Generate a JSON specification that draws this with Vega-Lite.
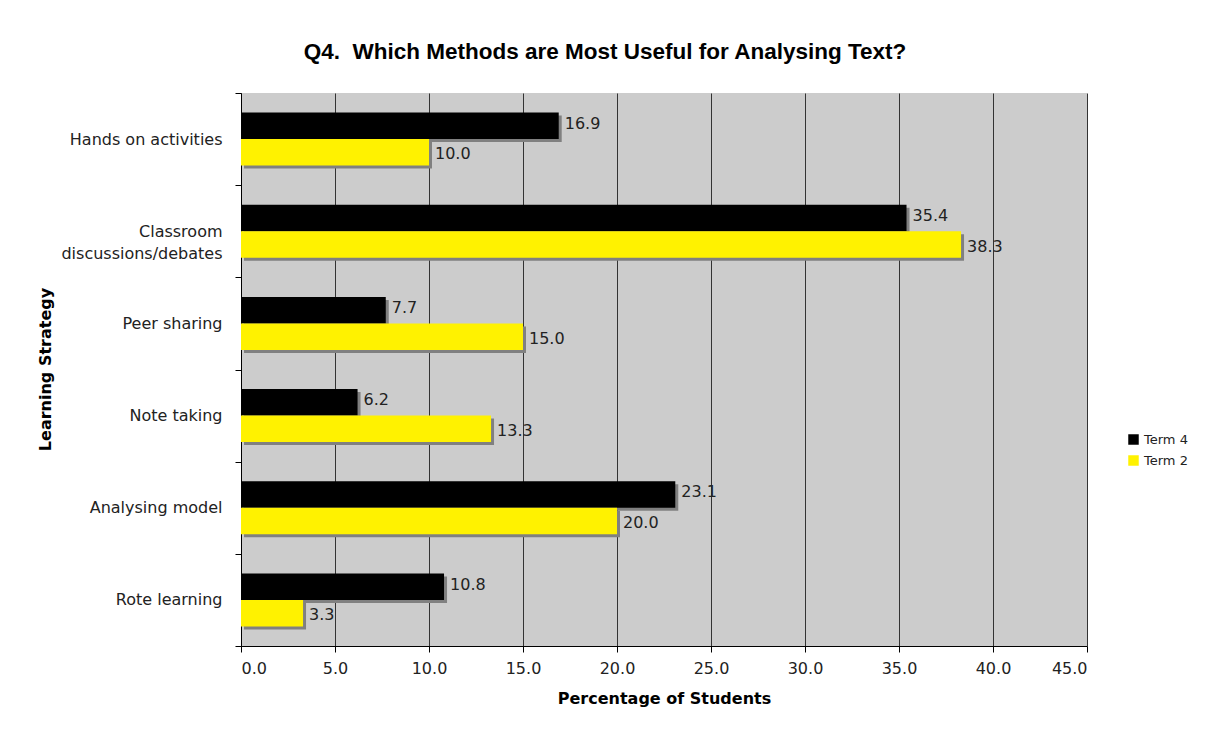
{
  "$schema": "https://vega.github.io/schema/vega-lite/v6.json",
  "width": 846,
  "height": 553,
  "autosize": {"type": "none"},
  "padding": {"left": 241, "top": 93, "right": 134, "bottom": 85},
  "background": "#ffffff",
  "title": {
    "text": "Q4.\u00a0 Which Methods are Most Useful for Analysing Text?",
    "font": "Liberation Sans",
    "fontSize": 22.5,
    "fontWeight": "bold",
    "color": "#000000",
    "anchor": "middle",
    "frame": "group",
    "dx": -59,
    "offset": 22
  },
  "data": {
    "values": [
      {"strategy": "Hands on activities", "term": "Term 4", "pct": 16.9},
      {"strategy": "Hands on activities", "term": "Term 2", "pct": 10.0},
      {"strategy": "Classroom discussions/debates", "term": "Term 4", "pct": 35.4},
      {"strategy": "Classroom discussions/debates", "term": "Term 2", "pct": 38.3},
      {"strategy": "Peer sharing", "term": "Term 4", "pct": 7.7},
      {"strategy": "Peer sharing", "term": "Term 2", "pct": 15.0},
      {"strategy": "Note taking", "term": "Term 4", "pct": 6.2},
      {"strategy": "Note taking", "term": "Term 2", "pct": 13.3},
      {"strategy": "Analysing model", "term": "Term 4", "pct": 23.1},
      {"strategy": "Analysing model", "term": "Term 2", "pct": 20.0},
      {"strategy": "Rote learning", "term": "Term 4", "pct": 10.8},
      {"strategy": "Rote learning", "term": "Term 2", "pct": 3.3}
    ]
  },
  "encoding": {
    "y": {
      "field": "strategy",
      "type": "nominal",
      "sort": ["Hands on activities", "Classroom discussions/debates", "Peer sharing", "Note taking", "Analysing model", "Rote learning"],
      "scale": {"paddingInner": 0, "paddingOuter": 0},
      "axis": {
        "title": "Learning Strategy",
        "titleFont": "DejaVu Sans",
        "titleFontSize": 16,
        "titleFontWeight": "bold",
        "titleColor": "#000000",
        "titleAngle": -90,
        "titleX": -196,
        "titleY": 276,
        "titleAlign": "center",
        "titleBaseline": "middle",
        "labelFont": "DejaVu Sans",
        "labelFontSize": 16,
        "labelColor": "#222222",
        "labelPadding": 13,
        "labelExpr": "datum.value == 'Classroom discussions/debates' ? ['Classroom', 'discussions/debates'] : datum.value",
        "labelLineHeight": 22,
        "tickBand": "extent",
        "tickSize": 6,
        "tickColor": "#000000",
        "domainColor": "#000000",
        "grid": false
      }
    },
    "x": {
      "field": "pct",
      "type": "quantitative",
      "scale": {"domain": [0, 45], "nice": false, "zero": true},
      "axis": {
        "title": "Percentage of Students",
        "titleFont": "DejaVu Sans",
        "titleFontSize": 16,
        "titleFontWeight": "bold",
        "titleColor": "#000000",
        "titlePadding": 14,
        "labelFont": "DejaVu Sans",
        "labelFontSize": 16,
        "labelColor": "#222222",
        "labelPadding": 8,
        "values": [0, 5, 10, 15, 20, 25, 30, 35, 40, 45],
        "format": ".1f",
        "tickSize": 6,
        "tickColor": "#000000",
        "domainColor": "#000000",
        "grid": true,
        "gridColor": "#333333",
        "gridWidth": 1
      }
    }
  },
  "layer": [
    {
      "mark": {"type": "bar", "color": "#808080", "xOffset": 3},
      "encoding": {
        "yOffset": {
          "field": "term",
          "type": "nominal",
          "sort": ["Term 4", "Term 2"],
          "scale": {"paddingInner": 0, "paddingOuter": 0.74, "range": [3, 95.1667]}
        }
      }
    },
    {
      "mark": {"type": "bar"},
      "encoding": {
        "yOffset": {
          "field": "term",
          "type": "nominal",
          "sort": ["Term 4", "Term 2"],
          "scale": {"paddingInner": 0, "paddingOuter": 0.74}
        },
        "color": {
          "field": "term",
          "type": "nominal",
          "scale": {"domain": ["Term 4", "Term 2"], "range": ["#000000", "#fff200"]},
          "legend": {
            "title": null,
            "orient": "none",
            "legendX": 886,
            "legendY": 340,
            "symbolType": "square",
            "symbolSize": 110,
            "symbolStrokeWidth": 0,
            "labelFont": "DejaVu Sans",
            "labelFontSize": 13,
            "labelColor": "#222222",
            "rowPadding": 7
          }
        }
      }
    },
    {
      "mark": {"type": "text", "align": "left", "baseline": "middle", "dx": 6, "font": "DejaVu Sans", "fontSize": 16, "color": "#222222"},
      "encoding": {
        "yOffset": {
          "field": "term",
          "type": "nominal",
          "sort": ["Term 4", "Term 2"],
          "scale": {"type": "point", "padding": 1.24}
        },
        "text": {"field": "pct", "type": "quantitative", "format": ".1f"}
      }
    }
  ],
  "resolve": {"scale": {"yOffset": "independent"}},
  "config": {
    "view": {"fill": "#cccccc", "stroke": null}
  }
}
